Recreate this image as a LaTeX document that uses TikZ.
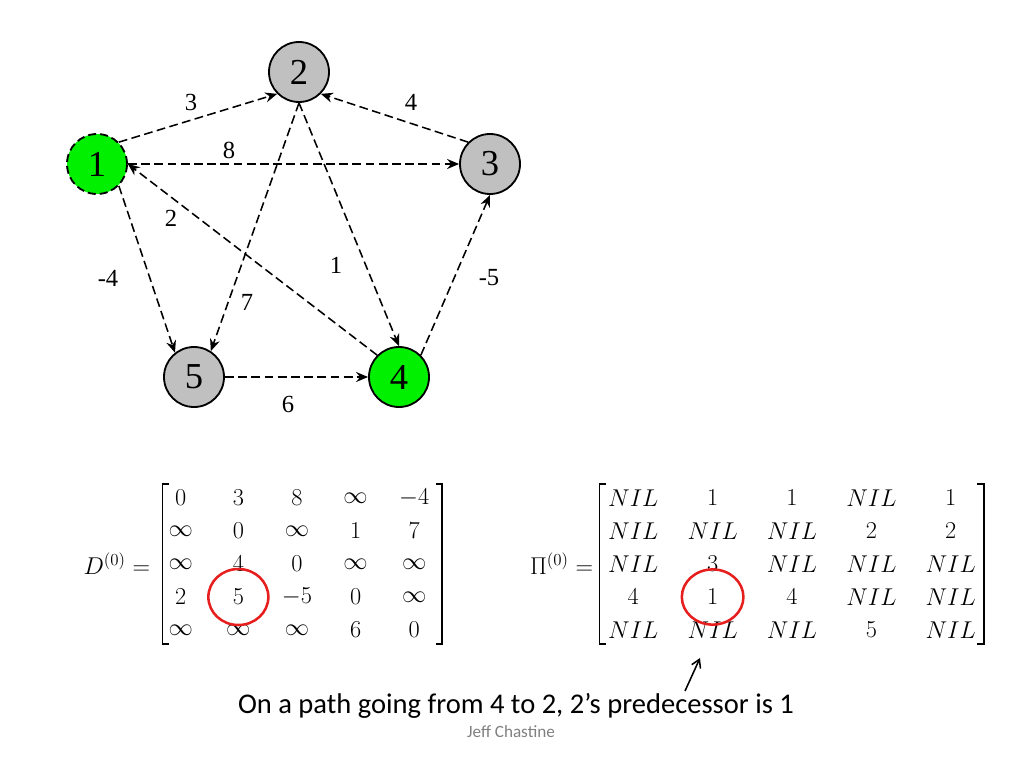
\documentclass[tikz,border=0pt]{standalone}
\usepackage{amsmath,amssymb}
\usepackage{fontspec}
\usepackage{tikz}
\usetikzlibrary{arrows.meta,matrix}
\usepackage{xcolor}
\newfontfamily\graphfont{Liberation Serif}
\newfontfamily\capfont{Carlito}
\definecolor{vgray}{RGB}{192,192,192}
\definecolor{vgreen}{RGB}{0,240,0}
\definecolor{ringred}{RGB}{230,30,30}

\begin{document}
\begin{tikzpicture}[
  x=0.25mm, y=-0.25mm,
  vertex/.style={circle, draw, line width=1.3pt, fill=vgray, minimum size=15mm,
                 inner sep=0pt, font=\graphfont\fontsize{26}{26}\selectfont},
  hitvertex/.style={vertex, fill=vgreen},
  srcvertex/.style={hitvertex, dash pattern=on 2mm off 1mm},
  link/.style={-{Stealth[length=3mm, width=2.5mm, inset=1mm]}, line width=1.1pt,
               dash pattern=on 2.2mm off 1.1mm},
  wt/.style={font=\graphfont\fontsize{17.5}{18}\selectfont, inner sep=1pt},
  mathtxt/.style={font=\fontsize{17}{20}\selectfont},
  mat/.style={matrix of math nodes, inner xsep=1mm, inner ysep=0.5mm,
              nodes={anchor=center, inner sep=0pt, minimum height=6mm, mathtxt},
              row sep=2.25mm},
  brk/.style={line width=1.2pt},
  ring/.style={draw=ringred, line width=1.8pt},
  pointer/.style={-{Straight Barb[length=2mm, width=2.4mm]}, line width=1.1pt},
]
  \useasboundingbox (0,0) rectangle (1024,768);

  \node[srcvertex] (v1) at (97,164)  {1};
  \node[vertex]    (v2) at (299,72)  {2};
  \node[vertex]    (v3) at (490,164) {3};
  \node[hitvertex] (v4) at (399,377) {4};
  \node[vertex]    (v5) at (194,377) {5};

  \draw[link] (v1.45) -- (v2.225);
  \draw[link] (v3.135) -- (v2.-45);
  \draw[link] (v1.east) -- (v3.west);
  \draw[link] (v4.135) -- (v1.east);
  \draw[link] (v2.south) -- (v4.north);
  \draw[link] (v2.south) -- (v5.57);
  \draw[link] (v1.-45) -- (v5.128);
  \draw[link] (v5.east) -- (v4.west);
  \draw[link] (v4.45) -- (v3.south);

  \node[wt] (w12) at (191,102) {3};
  \node[wt] (w32) at (411,102) {4};
  \node[wt] (w13) at (229,150) {8};
  \node[wt] (w41) at (171,218) {2};
  \node[wt] (w24) at (336,265) {1};
  \node[wt] (w43) at (489,278) {-5};
  \node[wt] (w15) at (108,278) {-4};
  \node[wt] (w25) at (247,302) {7};
  \node[wt] (w54) at (288,404) {6};

  \node[mathtxt, anchor=east] (dlabel) at (155,564) {$D^{(0)} =$};
  \matrix (dmat) [mat, column sep=7.4mm, nodes={minimum width=7mm}] at (298,564) {
    0 & 3 & 8 & \infty & -4 \\
    \infty & 0 & \infty & 1 & 7 \\
    \infty & 4 & 0 & \infty & \infty \\
    2 & 5 & -5 & 0 & \infty \\
    \infty & \infty & \infty & 6 & 0 \\
  };

  \node[mathtxt, anchor=east] (plabel) at (598,564) {$\Pi^{(0)} =$};
  \matrix (pmat) [mat, column sep=7.3mm, nodes={minimum width=11.7mm}] at (792,564) {
    NIL & 1 & 1 & NIL & 1 \\
    NIL & NIL & NIL & 2 & 2 \\
    NIL & 3 & NIL & NIL & NIL \\
    4 & 1 & 4 & NIL & NIL \\
    NIL & NIL & NIL & 5 & NIL \\
  };

  \foreach \m/\ls/\rs in {dmat/0mm/2.2mm, pmat/-1.1mm/1mm} {
    \draw[brk] ([xshift=\ls+1.7mm]\m.north west) -- ([xshift=\ls]\m.north west)
      -- ([xshift=\ls]\m.south west) -- ([xshift=\ls+1.7mm]\m.south west);
    \draw[brk] ([xshift=\rs-1.7mm]\m.north east) -- ([xshift=\rs]\m.north east)
      -- ([xshift=\rs]\m.south east) -- ([xshift=\rs-1.7mm]\m.south east);
  }

  \draw[ring] (dmat-4-2) ellipse [x radius=7.5mm, y radius=7mm];
  \draw[ring] (pmat-4-2) ellipse [x radius=7.7mm, y radius=6.9mm];

  \node[anchor=base, font=\capfont\fontsize{20.3}{24}\selectfont] (note) at (516,713)
    {On a path going from 4 to 2, 2’s predecessor is 1};
  \node[anchor=base, text=gray, font=\capfont\fontsize{12.2}{14}\selectfont] (credit) at (511,737)
    {Jeff Chastine};

  \coordinate (ptail) at (685,691);
  \coordinate (ptip) at (700,658);
  \draw[pointer] (ptail) -- (ptip);
\end{tikzpicture}
\end{document}
